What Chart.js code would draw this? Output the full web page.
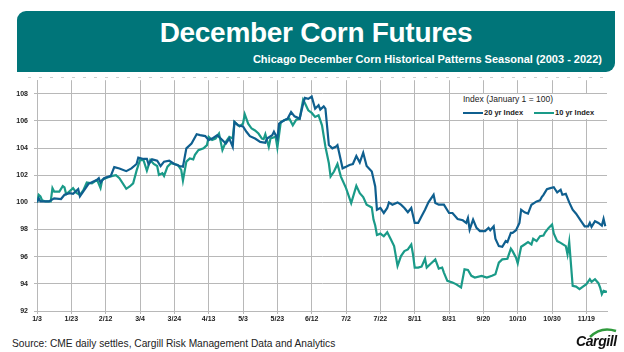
<!DOCTYPE html>
<html>
<head>
<meta charset="utf-8">
<script src="https://cdn.jsdelivr.net/npm/chart.js@4.4.0/dist/chart.umd.min.js"></script>
<style>
    body { margin: 0; width: 624px; height: 352px; background: #fff; position: relative; overflow: hidden; font-family: "Liberation Sans", Arial, sans-serif; }
    .banner { position: absolute; left: 17px; top: 11px; width: 598px; height: 61px; background: #007579; border-radius: 9px 0 9px 0; }
    .banner h1 { position: absolute; left: 0; right: 0; top: 6px; margin: 0; text-align: center; color: #fff; font-size: 28px; font-weight: bold; letter-spacing: -0.3px; }
    .banner h2 { position: absolute; right: 13px; top: 42px; margin: 0; color: #fff; font-size: 11px; font-weight: bold; }
    .dots { position: absolute; left: 28px; top: 77px; width: 582px; height: 1px; background: repeating-linear-gradient(90deg, #cfcfcf 0 3px, transparent 3px 11px); }
    #chart { position: absolute; left: 0; top: 70px; }
    .legend { position: absolute; left: 458px; top: 94px; width: 146px; height: 25px; background: #fff; font-size: 8.5px; color: #222; }
    .legend .head { position: absolute; left: 5px; top: 0; }
    .legend .item { position: absolute; top: 14px; font-weight: bold; font-size: 7.5px; display: flex; align-items: center; }
    .legend .item i { display: inline-block; width: 20px; height: 2px; margin-right: 1px; }
    .source { position: absolute; left: 12px; top: 338px; font-size: 10.2px; color: #222; }
    .logo { position: absolute; left: 576px; top: 326px; width: 46px; height: 24px; }
    .logo span { position: absolute; left: 0; top: 7px; font-size: 14px; font-weight: bold; font-style: italic; color: #111; letter-spacing: -0.4px; }
</style>
</head>
<body>
<div class="banner">
    <h1>December Corn Futures</h1>
    <h2>Chicago December Corn Historical Patterns Seasonal (2003 - 2022)</h2>
</div>
<div class="dots"></div>
<canvas id="chart" width="624" height="262"></canvas>
<div class="legend">
    <div class="head">Index (January 1 = 100)</div>
    <div class="item" style="left:5px"><i style="background:#0f5f8f"></i>20 yr Index</div>
    <div class="item" style="left:76px"><i style="background:#1a9a88"></i>10 yr Index</div>
</div>
<div class="source">Source: CME daily settles, Cargill Risk Management Data and Analytics</div>
<div class="logo">
    <svg width="46" height="12" style="position:absolute;left:0;top:0">
        <path d="M14 11 Q25 0 40 5" stroke="#2f9a3c" stroke-width="2.5" fill="none"/>
    </svg>
    <span>Cargill</span>
</div>
<script>
// x tick labels, one every 20 days starting 1/3
const tickLabels = ['1/3', '1/23', '2/12', '3/4', '3/24', '4/13', '5/3', '5/23', '6/12', '7/2', '7/22', '8/11', '8/31', '9/20', '10/10', '10/30', '11/19'];

// 20 yr index: days after 1/3 and index value
const days20 = [0, 1, 2, 7, 10, 14, 16, 19, 21, 24, 25, 28, 30, 35, 36, 37, 39, 43, 45, 48, 52, 55, 58, 59, 62, 64, 65, 67,
    70, 72, 74, 77, 80, 83, 85, 87, 90, 93, 95, 98, 100, 102, 105, 107, 110, 112, 114, 115, 117, 120, 122, 124, 127, 130,
    133, 134, 137, 138, 140, 141, 144, 146, 148, 150, 153, 155, 156, 158, 160, 162, 164, 165, 167, 168, 170, 172, 174, 175,
    178, 180, 182, 184, 186, 188, 190, 192, 195, 197, 198, 200, 202, 204, 205, 207, 210, 212, 214, 216, 218, 220, 222, 224,
    226, 228, 231, 232, 234, 237, 240, 242, 245, 248, 250, 251, 252, 254, 256, 258, 261, 263, 264, 266, 267, 269, 271, 273,
    274, 276, 277, 279, 281, 282, 284, 286, 288, 291, 293, 294, 295, 297, 299, 301, 303, 305, 306, 308, 310, 312, 314, 317,
    319, 321, 322, 323, 325, 327, 329, 330, 331];
const index20 = [100, 100.3, 100.07, 100.07, 100.3, 100.25, 100.56, 100.68, 100.63, 100.98, 100.44, 101.0, 101.37, 101.66, 101.78, 101.46, 101.78, 101.95, 102.6, 102.5, 102.3, 102.5, 102.83, 103.3, 103.2, 103.2, 102.8, 103.17,
    103.07, 102.68, 103.0, 103.07, 102.83, 102.68, 102.63, 103.98, 104.34, 105.02, 104.95, 104.88, 104.59, 104.7, 104.95, 104.7, 104.34, 104.7, 104.1, 105.93, 105.68, 105.6, 105.2, 104.88, 104.7, 104.46,
    104.39, 104.7, 104.95, 105.2, 104.7, 105.8, 106.05, 106.17, 106.66, 106.34, 106.17, 107.27, 107.7, 107.63, 107.8, 106.9, 107.15, 106.83, 107.07, 106.9, 104.22, 103.98, 104.1, 104.22,
    102.51, 102.63, 102.76, 102.83, 103.41, 102.93, 103.66, 102.68, 102.27, 101.17, 99.46, 99.59, 99.22, 99.59, 100.0, 99.83, 100.0, 99.83, 99.59, 99.27, 99.59, 98.49, 98.49, 98.98,
    99.46, 100.0, 100.56, 99.95, 99.83, 99.83, 99.22, 99.22, 98.78, 98.68, 98.49, 98.85, 98.0, 98.73, 98.12, 97.88, 97.88, 98.12, 97.95, 98.24, 97.32, 96.78, 96.73, 97.15,
    97.07, 97.76, 97.76, 97.95, 98.49, 99.46, 99.27, 99.17, 99.83, 100.07, 100.15, 100.39, 100.56, 100.98, 101.05, 101.12, 100.73, 100.93, 100.56, 100.63, 100.0, 99.46, 99.17, 98.61,
    98.24, 98.24, 98.49, 98.2, 98.61, 98.49, 98.29, 98.78, 98.24];

// 10 yr index
const days10 = [0, 1, 2, 3, 5, 8, 9, 10, 13, 15, 16, 17, 21, 23, 25, 27, 29, 32, 35, 37, 38, 41, 44, 46, 48, 52, 54, 56, 58, 60, 62, 64,
    66, 68, 70, 71, 73, 74, 76, 78, 82, 84, 85, 87, 89, 91, 92, 94, 97, 99, 100, 102, 104, 106, 108, 110, 112, 114, 115, 118, 120, 121,
    123, 125, 127, 129, 131, 132, 133, 135, 136, 139, 140, 142, 145, 147, 149, 151, 153, 155, 156, 158, 160, 162, 164, 166, 168, 170,
    171, 173, 175, 177, 180, 183, 186, 188, 190, 192, 195, 196, 197, 198, 200, 202, 204, 206, 208, 210, 212, 214, 216, 218, 219, 220,
    222, 224, 226, 227, 229, 232, 234, 236, 237, 239, 242, 244, 247, 249, 251, 253, 255, 259, 262, 265, 267, 269, 271, 274, 276, 277,
    279, 280, 282, 284, 286, 288, 289, 291, 293, 295, 296, 298, 300, 301, 303, 305, 308, 309, 310, 312, 314, 316, 318, 320, 322, 323,
    325, 327, 328, 329, 330, 332];
const index10 = [100, 100.56, 100.44, 100.15, 100.07, 100.07, 101.05, 100.8, 100.8, 101.2, 101.1, 100.6, 101.05, 100.7, 100.56, 100.9, 101.46, 101.4, 101.66, 101.05, 101.66, 101.83, 101.95, 102.0, 101.78, 101.0, 101.17, 101.4, 102.34, 103.12, 103.12, 102.34,
    103.12, 102.83, 102.68, 102.02, 102.15, 101.95, 102.63, 102.88, 102.76, 102.39, 101.6, 103.0, 103.24, 103.17, 103.5, 103.85, 103.98, 104.22, 104.83, 104.59, 104.7, 105.07, 103.85, 104.46, 104.83, 104.7, 105.93, 105.6, 105.8, 106.5,
    105.8, 105.44, 105.3, 105.07, 104.7, 104.66, 105.02, 104.1, 104.7, 104.83, 104.05, 105.93, 106.1, 106.17, 105.68, 106.1, 106.17, 107.56, 107.32, 106.78, 106.59, 106.29, 106.41, 105.68, 104.1, 102.88,
    101.9, 102.27, 102.83, 101.9, 101.05, 99.95, 101.22, 100.68, 100.39, 99.83, 99.63, 98.73, 98.3, 97.6, 97.7, 97.5, 97.8, 97.3, 96.78, 95.32, 96.05, 96.41, 96.54, 96.9, 96.17, 95.2,
    95.2, 95.27, 95.85, 95.2, 95.44, 95.8, 95.12, 95.2, 94.83, 94.22, 94.1, 93.98, 93.73, 95.07, 95.02, 94.59, 94.46, 94.59, 94.46, 94.6, 94.71, 95.56, 95.8, 95.85, 96.59, 96.41,
    95.93, 95.51, 96.73, 96.9, 97.07, 96.9, 97.32, 97.15, 97.51, 97.56, 97.8, 98.12, 98.37, 97.71, 97.15, 97.02, 96.78, 96.17, 97.07, 93.85, 93.8, 93.61, 93.8, 93.98, 94.34, 94.15,
    94.34, 94.05, 93.73, 93.24, 93.49, 93.41];

const toPoints = (days, vals) => days.map((d, i) => ({ x: d, y: vals[i] }));

const gridColor = '#b8b8b8';
const tickFont = { family: 'Liberation Sans, Arial', size: 7, weight: 'bold' };

new Chart(document.getElementById('chart').getContext('2d'), {
    type: 'line',
    data: {
        datasets: [
            { label: '20 yr Index', data: toPoints(days20, index20), borderColor: '#0f5f8f', borderWidth: 2.2, pointRadius: 0, tension: 0 },
            { label: '10 yr Index', data: toPoints(days10, index10), borderColor: '#1a9a88', borderWidth: 2.2, pointRadius: 0, tension: 0 }
        ]
    },
    options: {
        responsive: false,
        animation: false,
        layout: { padding: { top: 9, right: 17, left: 0, bottom: 0 } },
        plugins: { legend: { display: false }, tooltip: { enabled: false } },
        scales: {
            x: {
                type: 'linear', min: 0, max: 332,
                afterFit: (s) => { s.height = 21; },
                grid: { color: gridColor, tickLength: 3 },
                border: { color: gridColor },
                ticks: {
                    stepSize: 20, includeBounds: false, autoSkip: false, maxRotation: 0, padding: 1,
                    color: '#222', font: tickFont,
                    callback: (v) => tickLabels[v / 20] ?? ''
                }
            },
            y: {
                min: 92, max: 109,
                afterFit: (s) => { s.width = 37; },
                grid: { color: gridColor, tickLength: 3 },
                border: { color: gridColor },
                ticks: { stepSize: 2, includeBounds: false, padding: 6, color: '#222', font: tickFont }
            }
        }
    }
});
</script>
</body>
</html>
